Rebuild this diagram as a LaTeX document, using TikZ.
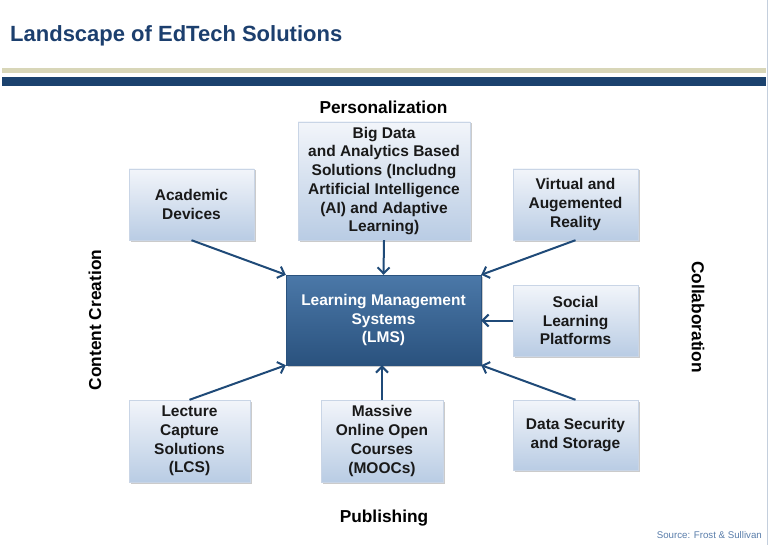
\documentclass[tikz,border=0pt]{standalone}
\usepackage{fontspec}
\setmainfont{Liberation Sans}
\usetikzlibrary{arrows.meta,shadows}
\definecolor{titleblue}{HTML}{1C3F6E}
\definecolor{barblue}{HTML}{1B426E}
\definecolor{bartan}{HTML}{D8D6B8}
\definecolor{boxtop}{HTML}{F2F5FA}
\definecolor{boxbot}{HTML}{B9CCE4}
\definecolor{boxline}{HTML}{C9D5E6}
\definecolor{lmstop}{HTML}{4B78A8}
\definecolor{lmsbot}{HTML}{2A527E}
\definecolor{arrowblue}{HTML}{1F4A78}
\definecolor{srcblue}{HTML}{5A7EAB}
\definecolor{edgeline}{HTML}{C4CFDD}
\tikzset{
  lbox/.style={draw=boxline, line width=0.4pt, top color=boxtop, bottom color=boxbot,
    inner sep=0pt, align=center, font=\fontsize{15.5}{18.7}\selectfont\bfseries, text=black!90,
    drop shadow={shadow xshift=1.5pt, shadow yshift=-1.5pt, fill=black!45, opacity=0.45}},
  lmsbox/.style={draw=lmsbot, line width=0.4pt, top color=lmstop, bottom color=lmsbot,
    inner sep=0pt, align=center, font=\fontsize{15.5}{18.7}\selectfont\bfseries, text=white,
    drop shadow={shadow xshift=1.5pt, shadow yshift=-1.5pt, fill=black!45, opacity=0.45}},
  conn/.style={draw=arrowblue, line width=2pt, -{Straight Barb[length=6pt,width=12pt]}},
  axislabel/.style={font=\fontsize{17.3}{20}\selectfont\bfseries, text=black, inner sep=0pt},
}
\begin{document}
\begin{tikzpicture}[x=1pt,y=-1pt]
\useasboundingbox (0,0) rectangle (770,545);
\fill[white] (0,0) rectangle (770,545);
% header
\node[anchor=base west, inner sep=0pt, text=titleblue, font=\fontsize{22}{26}\selectfont\bfseries] (title) at (10,42) {Landscape of EdTech Solutions};
\fill[bartan] (2,68) rectangle (766,73);
\fill[barblue] (2,77) rectangle (766,86);
\draw[edgeline, line width=1pt] (767.5,0) -- (767.5,545);
% boxes
\node[lmsbox, minimum width=195pt, minimum height=90pt] (lms) at (383.5,320) {Learning Management\\Systems\\(LMS)};
\node[lbox, minimum width=172pt, minimum height=118pt] (big) at (384,181) {Big Data\\and Analytics Based\\Solutions (Includng\\Artificial Intelligence\\(AI) and Adaptive\\Learning)};
\node[lbox, minimum width=125pt, minimum height=71pt] (acad) at (191.5,204.5) {Academic\\Devices};
\node[lbox, minimum width=125pt, minimum height=71pt] (vr) at (575.5,204.5) {Virtual and\\Augemented\\Reality};
\node[lbox, minimum width=125pt, minimum height=71pt] (social) at (575.5,320.5) {Social\\Learning\\Platforms};
\node[lbox, minimum width=121pt, minimum height=82pt] (lcs) at (189.5,441) {Lecture\\Capture\\Solutions\\(LCS)};
\node[lbox, minimum width=122pt, minimum height=82pt] (mooc) at (382,441) {Massive\\Online Open\\Courses\\(MOOCs)};
\node[lbox, minimum width=125pt, minimum height=70pt] (dss) at (575.5,435) {Data Security\\and Storage};
% axis labels
\node[axislabel] (pers) at (383.5,107) {Personalization};
\node[axislabel] (pub) at (384,518.5) {Publishing};
\node[axislabel, rotate=90] (cc) at (95,320) {Content Creation};
\node[axislabel, rotate=-90] (collab) at (698,317) {Collaboration};
\node[anchor=base east, inner sep=0pt, text=srcblue, font=\fontsize{9.7}{11}\selectfont] (src) at (762,538) {Source: Frost \& Sullivan};
% connectors
\draw[conn] (acad.south) -- (lms.north west);
\draw[conn] (big.south) -- (lms.north);
\draw[conn] (vr.south) -- (lms.north east);
\draw[conn] (social.west) -- (lms.east |- social.west);
\draw[conn] (lcs.north) -- (lms.south west);
\draw[conn] (mooc.north) -- (mooc.north |- lms.south);
\draw[conn] (dss.north) -- (lms.south east);
\end{tikzpicture}
\end{document}
